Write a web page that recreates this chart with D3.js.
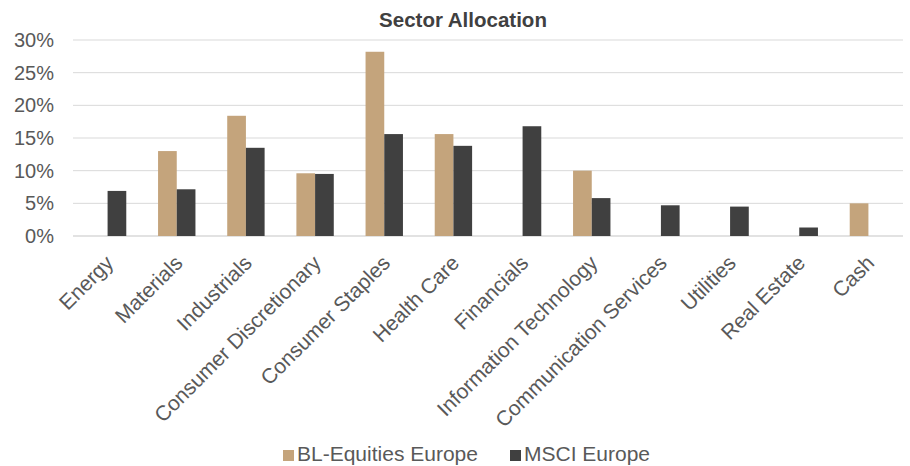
<!DOCTYPE html>
<html>
<head>
<meta charset="utf-8">
<script src="https://cdn.jsdelivr.net/npm/d3@7"></script>
<style>
  body { margin: 0; background: #fff; }
  text { font-family: "Liberation Sans", Arial, sans-serif; }
</style>
</head>
<body>
<div id="chart"></div>
<script>
// data
var sectors = ["Energy", "Materials", "Industrials", "Consumer Discretionary", "Consumer Staples",
    "Health Care", "Financials", "Information Technology", "Communication Services",
    "Utilities", "Real Estate", "Cash"];
var fundValues = [0, 13.0, 18.4, 9.6, 28.2, 15.6, 0, 10.0, 0, 0, 0, 5.0];
var benchValues = [6.9, 7.15, 13.5, 9.5, 15.6, 13.8, 16.8, 5.8, 4.7, 4.5, 1.3, 0];
var seriesNames = ["BL-Equities Europe", "MSCI Europe"];
var seriesColors = ["#c4a47c", "#404040"];
var yTicks = [0, 5, 10, 15, 20, 25, 30];

var width = 910, height = 466;
var margin = { top: 40, right: 7, bottom: 230, left: 73 };

var svg = d3.select("#chart").append("svg")
    .attr("width", width)
    .attr("height", height);

var rows = sectors.map(function(s, i){
    return { sector: s, vals: [fundValues[i], benchValues[i]] };
});

var x = d3.scaleBand()
    .domain(sectors)
    .range([margin.left, width - margin.right]);

// two bars per sector, wide gap between groups
var x1 = d3.scaleBand()
    .domain([0, 1])
    .range([0, x.bandwidth()])
    .paddingOuter(0.85)
    .paddingInner(0);

var y = d3.scaleLinear()
    .domain([0, 30])
    .range([height - margin.bottom, margin.top]);

// gridlines
svg.append("g").selectAll("line")
    .data(yTicks)
    .enter().append("line")
    .attr("x1", margin.left)
    .attr("x2", width - margin.right)
    .attr("y1", function(d){ return y(d); })
    .attr("y2", function(d){ return y(d); })
    .attr("stroke", "#d9d9d9")
    .attr("stroke-width", function(d){ return d === 0 ? 1.5 : 1; });

// y labels
svg.append("g").selectAll("text")
    .data(yTicks)
    .enter().append("text")
    .attr("x", 54)
    .attr("y", function(d){ return y(d); })
    .attr("dy", "0.35em")
    .attr("text-anchor", "end")
    .attr("font-size", "20px")
    .attr("fill", "#595959")
    .text(function(d){ return d + "%"; });

// bars
var groups = svg.append("g").selectAll("g")
    .data(rows)
    .enter().append("g")
    .attr("transform", function(d){ return "translate(" + x(d.sector) + ",0)"; });

groups.selectAll("rect")
    .data(function(d){ return d.vals.map(function(v, i){ return { v: v, i: i }; }); })
    .enter().append("rect")
    .attr("x", function(d){ return x1(d.i); })
    .attr("width", x1.bandwidth())
    .attr("y", function(d){ return y(d.v); })
    .attr("height", function(d){ return y(0) - y(d.v); })
    .attr("fill", function(d){ return seriesColors[d.i]; });

// x labels rotated
svg.append("g").selectAll("text")
    .data(sectors)
    .enter().append("text")
    .attr("transform", function(d){
        var cx = x(d) + x.bandwidth() / 2 + 2;
        return "translate(" + cx + "," + 259 + ") rotate(-45)";
    })
    .attr("text-anchor", "end")
    .attr("dy", "0.35em")
    .attr("font-size", "21px")
    .attr("fill", "#595959")
    .text(function(d){ return d; });

// title
svg.append("text")
    .attr("x", 463)
    .attr("y", 27)
    .attr("text-anchor", "middle")
    .attr("font-size", "20.5px")
    .attr("font-weight", "bold")
    .attr("fill", "#404040")
    .text("Sector Allocation");

// legend
var legendX = [283, 510];
var legend = svg.append("g").selectAll("g")
    .data(seriesNames)
    .enter().append("g")
    .attr("transform", function(d, i){ return "translate(" + legendX[i] + ",450)"; });

legend.append("rect")
    .attr("width", 11)
    .attr("height", 11)
    .attr("fill", function(d, i){ return seriesColors[i]; });

legend.append("text")
    .attr("x", 14)
    .attr("y", 11)
    .attr("font-size", "21px")
    .attr("fill", "#595959")
    .text(function(d){ return d; });
</script>
</body>
</html>
